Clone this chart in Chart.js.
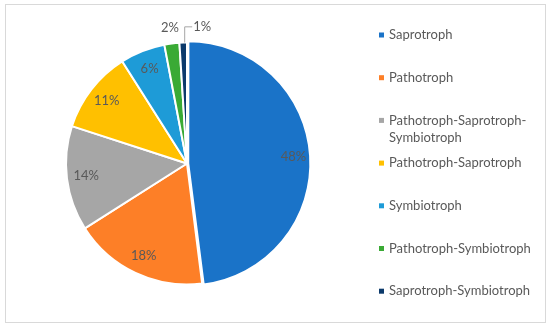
<!DOCTYPE html>
<html>
<head>
<meta charset="utf-8">
<script src="https://cdn.jsdelivr.net/npm/chart.js@4"></script>
<style>
  body { margin: 0; background: #fff; }
  #wrap { position: relative; width: 550px; height: 326px; }
  #frame { position: absolute; left: 5px; top: 4px; width: 539px; height: 317px; border: 1.5px solid #d9d9d9; pointer-events: none; }
</style>
</head>
<body>
<div id="wrap">
  <canvas id="pieChart" width="550" height="326"></canvas>
  <div id="frame"></div>
</div>
<script>
const categories = [
    "Saprotroph",
    "Pathotroph",
    "Pathotroph-Saprotroph-Symbiotroph",
    "Pathotroph-Saprotroph",
    "Symbiotroph",
    "Pathotroph-Symbiotroph",
    "Saprotroph-Symbiotroph"
];
const percents = [48, 18, 14, 11, 6, 2, 1];
const colors = ['#1a73c8', '#fd7f27', '#a6a6a6', '#ffc000', '#1e9bd7', '#3aaa35', '#0c3a6b'];
const offsets = [5, 0, 0, 0, 0, 0, 0];

const textColor = '#595959';
const fontStr = '13px Lato, "Open Sans", sans-serif';

// percent labels, inside big slices, outside the tiny ones
const pieLabels = {
    id: 'pieLabels',
    afterDatasetsDraw(chart) {
        const ctx = chart.ctx;
        const arcs = chart.getDatasetMeta(0).data;
        ctx.save();
        ctx.font = fontStr;
        ctx.fillStyle = textColor;
        ctx.textBaseline = 'middle';
        let lastOutside = null;
        arcs.forEach((arc, i) => {
            const p = arc.getProps(['x', 'y', 'startAngle', 'endAngle', 'outerRadius'], true);
            const mid = (p.startAngle + p.endAngle) / 2;
            const off = offsets[i];
            const txt = percents[i] + '%';
            if (percents[i] >= 5) {
                const r = p.outerRadius * 0.84 + off;
                ctx.textAlign = 'center';
                ctx.fillText(txt, p.x + Math.cos(mid) * r, p.y + Math.sin(mid) * r);
            } else {
                const r = p.outerRadius * 1.13;
                let tx = p.x + Math.cos(mid) * r;
                const ty = p.y + Math.sin(mid) * r;
                if (lastOutside && tx - lastOutside < 18) {
                    // crowded: leader line then text to the right
                    const ex = p.x + Math.cos(mid) * p.outerRadius;
                    const ey = p.y + Math.sin(mid) * p.outerRadius;
                    ctx.strokeStyle = '#a6a6a6';
                    ctx.lineWidth = 1;
                    ctx.beginPath();
                    ctx.moveTo(ex + 1.5, ey);
                    ctx.lineTo(ex + 1.5, ty);
                    ctx.lineTo(ex + 9, ty);
                    ctx.stroke();
                    ctx.textAlign = 'left';
                    ctx.fillText(txt, ex + 10, ty);
                } else {
                    ctx.textAlign = 'center';
                    ctx.fillText(txt, tx, ty);
                    lastOutside = tx;
                }
            }
        });
        ctx.restore();
    }
};

// legend on the right, wrapping long names at hyphens
const sideLegend = {
    id: 'sideLegend',
    afterDraw(chart) {
        const ctx = chart.ctx;
        const x0 = 379, tx = 389, y0 = 35, step = 42.7, maxW = 150, lineH = 17;
        ctx.save();
        ctx.font = fontStr;
        ctx.textBaseline = 'middle';
        ctx.textAlign = 'left';
        chart.data.labels.forEach((lab, i) => {
            const y = y0 + i * step;
            ctx.fillStyle = chart.data.datasets[0].backgroundColor[i];
            ctx.fillRect(x0, y - 2.5, 5, 5);
            ctx.fillStyle = textColor;
            const parts = lab.split('-');
            let lines = [], cur = '';
            parts.forEach((part, j) => {
                const piece = part + (j < parts.length - 1 ? '-' : '');
                if (cur && ctx.measureText(cur + piece).width > maxW) {
                    lines.push(cur);
                    cur = piece;
                } else {
                    cur += piece;
                }
            });
            lines.push(cur);
            lines.forEach((ln, k) => ctx.fillText(ln, tx, y + k * lineH));
        });
        ctx.restore();
    }
};

new Chart(document.getElementById('pieChart'), {
    type: 'pie',
    data: {
        labels: categories,
        datasets: [{
            data: percents,
            backgroundColor: colors,
            borderColor: '#ffffff',
            borderWidth: 2,
            hoverBorderWidth: 2,
            offset: offsets,
            hoverOffset: 0
        }]
    },
    options: {
        responsive: false,
        animation: false,
        layout: {
            padding: { left: 62.5, right: 238.5, top: 39, bottom: 38 }
        },
        plugins: {
            legend: { display: false },
            tooltip: { enabled: false },
            title: { display: false }
        }
    },
    plugins: [pieLabels, sideLegend]
});
</script>
</body>
</html>
